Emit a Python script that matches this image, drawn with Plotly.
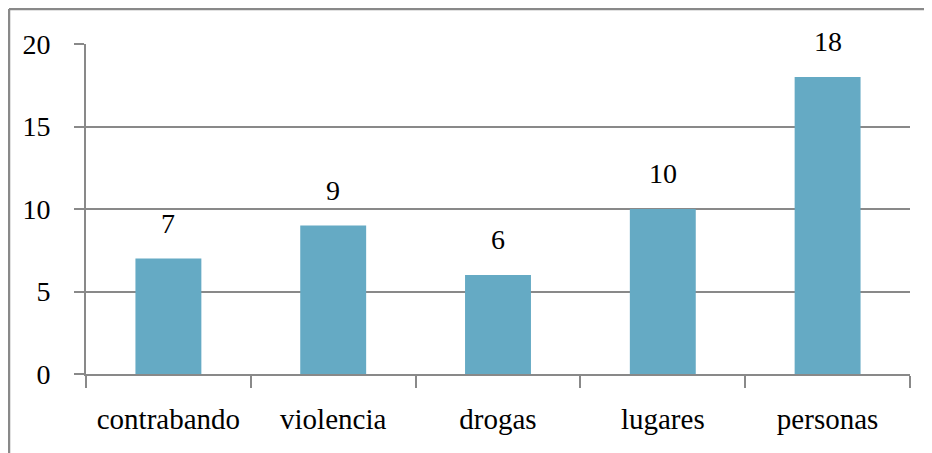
import plotly.graph_objects as go

categories = ["contrabando", "violencia", "drogas", "lugares", "personas"]
values = [7, 9, 6, 10, 18]
y_ticks = [0, 5, 10, 15, 20]

FONT = "Liberation Serif, Times New Roman, serif"
GRAY = "#898989"
BAR = "#65AAC4"

fig = go.Figure()
fig.add_trace(go.Bar(x=categories, y=values, marker=dict(color=BAR, line=dict(width=0)),
                     showlegend=False, hoverinfo="x+y"))

for c, v in zip(categories, values):
    fig.add_annotation(x=c, y=v, text=str(v), showarrow=False, yanchor="bottom",
                       yshift=18, font=dict(family=FONT, size=28, color="black"))

# page is offset by the 8px body margin, so coordinates below are figure coordinates
W, H = 932, 453
L, T = 78, 36
PR, PB = 902, 366
R, B = W - PR, H - PB
pw, ph = PR - L, PB - T
def px(x): return (x - L) / pw
def py(y): return (PB - y) / ph

fig.add_shape(type="line", xref="paper", yref="paper", x0=px(1), x1=px(960), y0=py(1), y1=py(1),
              line=dict(color=GRAY, width=2.5))
fig.add_shape(type="line", xref="paper", yref="paper", x0=px(1), x1=px(1), y0=py(1), y1=py(480),
              line=dict(color=GRAY, width=2.5))

fig.update_layout(
    width=W, height=H,
    margin=dict(l=L, r=R, t=T, b=B),
    paper_bgcolor="white", plot_bgcolor="white",
    bargap=0.6,
    font=dict(family=FONT, size=28, color="black"),
    xaxis=dict(type="category", showline=True, linecolor=GRAY, linewidth=2,
               ticks="outside", tickson="boundaries", ticklen=12, tickcolor=GRAY, tickwidth=2,
               showgrid=False, ticklabelstandoff=18, tickfont=dict(family=FONT, size=29)),
    yaxis=dict(range=[0, 20], tickvals=y_ticks, showline=True, linecolor=GRAY, linewidth=2,
               showgrid=True, gridcolor=GRAY, gridwidth=1.5, zeroline=False,
               ticks="outside", ticklen=10, tickcolor=GRAY, tickwidth=1.5,
               ticklabelstandoff=18, tickfont=dict(family=FONT, size=28)),
)

fig.write_html("out.html")
